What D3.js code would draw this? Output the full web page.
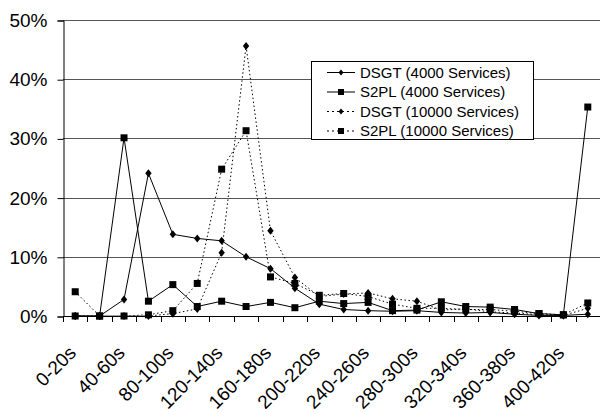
<!DOCTYPE html>
<html>
<head>
<meta charset="utf-8">
<script src="https://cdn.jsdelivr.net/npm/d3@7/dist/d3.min.js"></script>
<style>
  html, body { margin: 0; padding: 0; background: #fff; }
  svg { display: block; font-family: "Liberation Sans", Arial, sans-serif; }
</style>
</head>
<body>
<svg id="chart" width="600" height="412"></svg>
<script>
// Response-time buckets (20 s wide)
const categories = [
  "0-20s", "20-40s", "40-60s", "60-80s", "80-100s", "100-120s", "120-140s",
  "140-160s", "160-180s", "180-200s", "200-220s", "220-240s", "240-260s",
  "260-280s", "280-300s", "300-320s", "320-340s", "340-360s", "360-380s",
  "380-400s", "400-420s", "420-440s"
];

// Share of requests per bucket, in percent
const dsgt4000 = [0, 0, 2.8, 24.1, 13.8, 13.1, 12.7, 10.0, 8.0, 4.7, 2.0, 1.1,
                  0.9, 0.8, 0.9, 0.6, 0.5, 0.6, 0.3, 0.1, 0.1, 0.3];
const s2pl4000 = [0, 0, 30.1, 2.5, 5.3, 1.6, 2.5, 1.6, 2.3, 1.4, 2.5, 2.1,
                  2.3, 0.9, 1.0, 2.4, 1.6, 1.5, 1.1, 0.4, 0.2, 35.3];
const dsgt10000 = [0, 0, 0, 0, 0.4, 1.2, 10.7, 45.6, 14.4, 6.5, 3.3, 3.7,
                   3.9, 2.9, 2.5, 1.0, 1.2, 0.7, 0.5, 0.2, 0.1, 1.3];
const s2pl10000 = [4.1, 0, 0, 0.2, 0.9, 5.5, 24.8, 31.3, 6.6, 5.5, 3.5, 3.8,
                   3.3, 2.0, 1.3, 1.3, 1.1, 1.1, 0.8, 0.4, 0.2, 2.2];

const yTicks = [0, 10, 20, 30, 40, 50];

const series = [
  { name: "DSGT (4000 Services)",  values: dsgt4000,  marker: "diamond", dotted: false },
  { name: "S2PL (4000 Services)",  values: s2pl4000,  marker: "square",  dotted: false },
  { name: "DSGT (10000 Services)", values: dsgt10000, marker: "diamond", dotted: true },
  { name: "S2PL (10000 Services)", values: s2pl10000, marker: "square",  dotted: true }
];

const svg = d3.select("#chart");
const plotLeft = 63, plotRight = 600, plotTop = 20, plotBottom = 316;

const x = d3.scaleBand().domain(categories).range([plotLeft, plotRight]).padding(0);
const cx = c => x(c) + x.bandwidth() / 2;
const y = d3.scaleLinear().domain([0, 50]).range([plotBottom, plotTop]);

// Horizontal gridlines
svg.append("g")
  .selectAll("line")
  .data(yTicks.filter(d => d > 0))
  .join("line")
  .attr("x1", plotLeft).attr("x2", plotRight)
  .attr("y1", d => Math.round(y(d)) + 0.5).attr("y2", d => Math.round(y(d)) + 0.5)
  .attr("stroke", "#555").attr("stroke-width", 1);

// Y axis
const yAxis = d3.axisLeft(y).tickValues(yTicks).tickFormat(d => d + "%").tickSizeOuter(0).tickSize(6).tickPadding(10);
const gy = svg.append("g").attr("transform", `translate(${plotLeft + 0.5},0.5)`).call(yAxis);
gy.select(".domain").attr("stroke", "#000");
gy.selectAll(".tick line").attr("stroke", "#000");
gy.selectAll(".tick text")
  .attr("font-size", 19).attr("fill", "#000")
  .attr("font-family", "'Liberation Sans', Arial, sans-serif");

// X axis line and ticks at bucket boundaries
const gx = svg.append("g");
gx.append("line")
  .attr("x1", plotLeft).attr("x2", plotRight)
  .attr("y1", plotBottom + 0.5).attr("y2", plotBottom + 0.5)
  .attr("stroke", "#000");
const boundaries = categories.map(c => x(c)).concat([plotRight]);
gx.selectAll("line.tick")
  .data(boundaries)
  .join("line")
  .attr("class", "tick")
  .attr("x1", d => Math.round(d) + 0.5).attr("x2", d => Math.round(d) + 0.5)
  .attr("y1", plotBottom).attr("y2", plotBottom + 6)
  .attr("stroke", "#000");

// Rotated category labels, every other bucket
gx.selectAll("text")
  .data(categories.filter((c, i) => i % 2 === 0 && i < 21))
  .join("text")
  .attr("transform", c => `translate(${cx(c) + 2},${plotBottom + 38}) rotate(-45)`)
  .attr("text-anchor", "end")
  .attr("font-size", 19)
  .attr("fill", "#000")
  .text(c => c);

// Marker shapes
const diamond = "M0,-4L3.2,0L0,4L-3.2,0Z";
const square = "M-3.5,-3.5H3.5V3.5H-3.5Z";

const line = d3.line().x((d, i) => cx(categories[i])).y(d => y(d));

const gs = svg.append("g");
series.forEach(s => {
  gs.append("path")
    .datum(s.values)
    .attr("d", line)
    .attr("fill", "none")
    .attr("stroke", "#000")
    .attr("stroke-width", 1)
    .attr("stroke-dasharray", s.dotted ? "1.5,2.5" : null);
});
series.forEach(s => {
  gs.append("g")
    .selectAll("path")
    .data(s.values)
    .join("path")
    .attr("transform", (d, i) => `translate(${cx(categories[i])},${y(d)})`)
    .attr("d", s.marker === "diamond" ? diamond : square)
    .attr("fill", "#000");
});

// Legend
const lg = svg.append("g");
lg.append("rect")
  .attr("x", 311.5).attr("y", 61.5).attr("width", 222).attr("height", 78)
  .attr("fill", "#fff").attr("stroke", "#000");
series.forEach((s, i) => {
  const ly = 72.5 + i * 19.5;
  lg.append("line")
    .attr("x1", 327).attr("x2", 355).attr("y1", ly).attr("y2", ly)
    .attr("stroke", "#000")
    .attr("stroke-dasharray", s.dotted ? "2,3" : null);
  lg.append("path")
    .attr("transform", `translate(341,${ly})`)
    .attr("d", s.marker === "diamond" ? "M0,-3L2.5,0L0,3L-2.5,0Z" : "M-3,-3H3V3H-3Z")
    .attr("fill", "#000");
  lg.append("text")
    .attr("x", 360).attr("y", ly).attr("dy", "0.36em")
    .attr("font-size", 15).attr("fill", "#000")
    .text(s.name);
});
</script>
</body>
</html>
